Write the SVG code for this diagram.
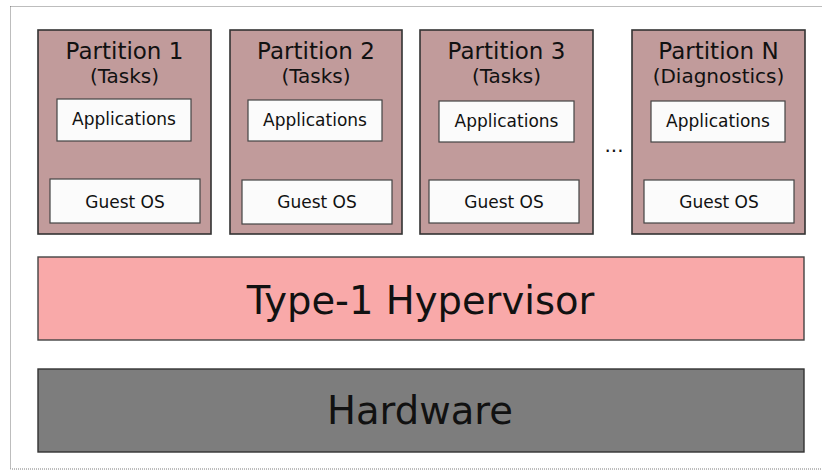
<svg xmlns="http://www.w3.org/2000/svg" width="822" height="471" viewBox="0 0 822 471">
<style>
.frame{fill:none;stroke:#7a7a7a;stroke-width:1;stroke-dasharray:1 1}
.part{fill:#c19b9b;stroke:#333;stroke-width:1.6}
.inner{fill:#fbfbfb;stroke:#444;stroke-width:1.2}
.hyp{fill:#f9a9a9;stroke:#444;stroke-width:1.4}
.hw{fill:#7d7d7d;stroke:#333;stroke-width:1.4}
text{font-family:"DejaVu Sans","Liberation Sans",sans-serif;fill:#111;text-anchor:middle}
.t1{font-size:23px}
.t2{font-size:20px}
.t3{font-size:17px}
.big{font-size:38.5px}
</style>
<rect class="frame" x="10.5" y="6.5" width="830" height="462.5"/>
<g id="partition1">
<rect class="part" x="38" y="30" width="173" height="204"/>
<text class="t1" x="124.5" y="59">Partition 1</text>
<text class="t2" x="124.5" y="83">(Tasks)</text>
<rect class="inner" x="57" y="99" width="134" height="42"/>
<text class="t3" x="124" y="125">Applications</text>
<rect class="inner" x="50" y="179" width="150" height="44"/>
<text class="t3" x="125" y="208">Guest OS</text>
</g>
<g id="partition2">
<rect class="part" x="230" y="30" width="172" height="204"/>
<text class="t1" x="316" y="59">Partition 2</text>
<text class="t2" x="316" y="83">(Tasks)</text>
<rect class="inner" x="248" y="100" width="134" height="41"/>
<text class="t3" x="315" y="126">Applications</text>
<rect class="inner" x="242" y="180" width="150" height="44"/>
<text class="t3" x="317" y="208">Guest OS</text>
</g>
<g id="partition3">
<rect class="part" x="420" y="30" width="173" height="204"/>
<text class="t1" x="506.5" y="59">Partition 3</text>
<text class="t2" x="506.5" y="83">(Tasks)</text>
<rect class="inner" x="439" y="101" width="135" height="41"/>
<text class="t3" x="506.5" y="127">Applications</text>
<rect class="inner" x="429" y="180" width="150" height="43"/>
<text class="t3" x="504" y="208">Guest OS</text>
</g>
<g id="ellipsis">
<text class="t2" x="614" y="152">...</text>
</g>
<g id="partitionN">
<rect class="part" x="632" y="30" width="173" height="204"/>
<text class="t1" x="718.5" y="59">Partition N</text>
<text class="t2" x="718.5" y="83">(Diagnostics)</text>
<rect class="inner" x="651" y="101" width="134" height="41"/>
<text class="t3" x="718" y="127">Applications</text>
<rect class="inner" x="644" y="180" width="150" height="43"/>
<text class="t3" x="719" y="208">Guest OS</text>
</g>
<g id="hypervisor">
<rect class="hyp" x="38" y="257" width="766" height="83"/>
<text class="big" x="420.5" y="314">Type-1 Hypervisor</text>
</g>
<g id="hardware">
<rect class="hw" x="38" y="369" width="766" height="83"/>
<text class="big" x="420" y="424">Hardware</text>
</g>
<g id="connectors"></g>
</svg>
